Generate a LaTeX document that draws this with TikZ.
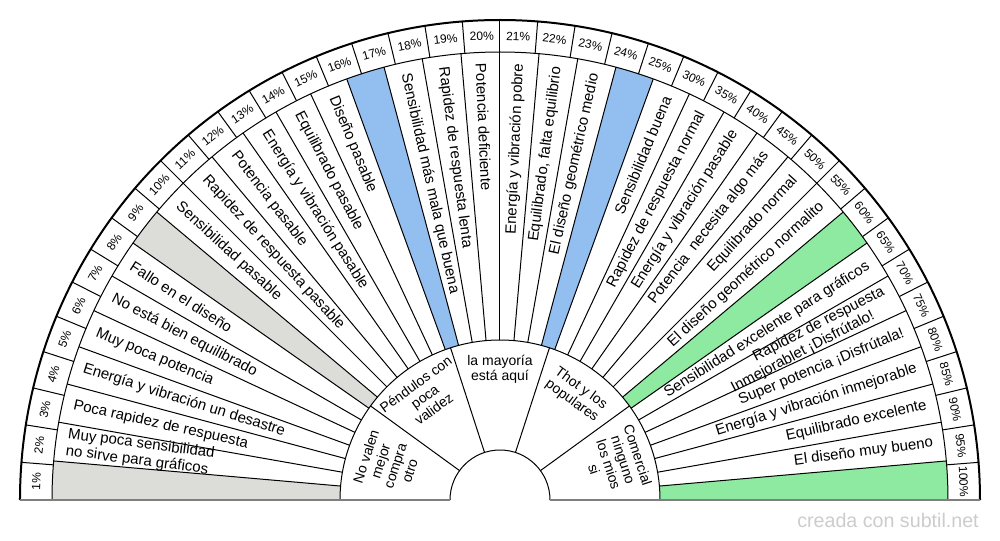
\documentclass[tikz,border=0pt]{standalone}
\usepackage{fontspec}
\setmainfont{Liberation Sans}

\definecolor{fillgray}{HTML}{DCDCD8}
\definecolor{fillblue}{HTML}{93BFF0}
\definecolor{fillgreen}{HTML}{8EEAA0}
\definecolor{basegray}{HTML}{7F7F7F}
\definecolor{markgray}{HTML}{CCCCCC}

\tikzset{lbl/.style={font=\fontsize{11.25}{12.75}\selectfont,inner sep=0pt},
	lbl left/.style={lbl,anchor=west,align=left},
	lbl right/.style={lbl,anchor=east,align=right}
}
\tikzstyle{pct}=[font=\fontsize{9}{10}\selectfont,inner sep=0pt]
\tikzstyle{core}=[font=\fontsize{10.5}{11.5}\selectfont,align=center,inner sep=0pt]

\begin{document}
\begin{tikzpicture}[x=0.75pt,y=0.75pt]
	\useasboundingbox (-500,-40) rectangle (500,500);
	\begin{scope}[line width=0.75pt]
		% coloured sectors
		\foreach \k/\col in {1/fillgray,8/fillgray,15/fillblue,22/fillblue,29/fillgreen,36/fillgreen}{
			\pgfmathsetmacro{\a}{185-5*\k}
			\pgfmathsetmacro{\b}{180-5*\k}
			\fill[\col] (\a:160) arc[start angle=\a,end angle=\b,radius=160]
				-- (\b:448) arc[start angle=\b,end angle=\a,radius=448] -- cycle;
		}
		
		\foreach \j in {1,...,35}{
			\draw ({180-5*\j}:160) -- ({180-5*\j}:448);
		}
		\foreach \j in {1,...,39}{
			\draw ({180-4.5*\j}:448) -- ({180-4.5*\j}:480);
		}
		\foreach \a in {144,108,72,36}{
			\draw (\a:50) -- (\a:160);
		}
		
		\draw (180:50) arc[start angle=180,end angle=0,radius=50];
		\draw (180:160) arc[start angle=180,end angle=0,radius=160];
		\draw (180:448) arc[start angle=180,end angle=0,radius=448];
		\draw[line width=1.5pt] (180:480) arc[start angle=180,end angle=0,radius=480];
		\draw[basegray,line width=1.5pt] (-480,0) -- (-50,0) (50,0) -- (480,0);
	\end{scope}
	
	% percentages
	\foreach \lab [count=\j] in {1,2,3,4,5,6,7,8,9,10,11,12,13,14,15,16,17,18,19,20,21,22,23,24,25,30,35,40,45,50,55,60,65,70,75,80,85,90,95,100}{
		\pgfmathsetmacro{\m}{182.25-4.5*\j}
		\pgfmathsetmacro{\r}{\m-90}
		\node[pct,rotate=\r] (p\j) at (\m:464) {\lab\%};
	}
	
	% sector texts, left half
	\foreach \k/\txt in {2/{Muy poca sensibilidad\\no sirve para gráficos},3/{Poca rapidez de respuesta},
		4/{Energía y vibración un desastre},5/{Muy poca potencia},6/{No está bien equilibrado},
		7/{Fallo en el diseño},9/{Sensibilidad pasable},10/{Rapidez de respuesta pasable},
		11/{Potencia pasable},12/{Energía y vibración pasable},13/{Equilibrado pasable},
		14/{Diseño pasable},16/{Sensibilidad más mala que buena},17/{Rapidez de respuesta lenta},
		18/{Potencia deficiente}}{
		\pgfmathsetmacro{\m}{182.5-5*\k}
		\pgfmathsetmacro{\r}{\m+180}
		\node[lbl left,rotate=\r] (s\k) at (\m:437) {\txt};
	}
	
	% sector texts, right half
	\foreach \k/\txt in {19/{Energía y vibración pobre},20/{Equilibrado, falta equilibrio},
		21/{El diseño geométrico medio},23/{Sensibilidad buena},24/{Rapidez de respuesta normal},
		25/{Energía y vibración pasable},26/{Potencia~ necesita algo más},27/{Equilibrado normal},
		28/{El diseño geométrico normalito},30/{Sensibilidad excelente para gráficos},
		31/{Rapidez de respuesta\\Inmejorablet ¡Disfrútalo!\hspace*{15pt}},
		32/{Super potencia ¡Disfrútala!},33/{Energía y vibración inmejorable},
		34/{Equilibrado excelente},35/{El diseño muy bueno}}{
		\pgfmathsetmacro{\m}{182.5-5*\k}
		\node[lbl right,rotate=\m] (s\k) at (\m:437) {\txt};
	}
	
	% inner ring
	\node[core,rotate=72]  (c1) at (162:118) {No valen\\mejor\\compra\\otro};
	\node[core,rotate=36]  (c2) at (126:128) {Péndulos con\\poca\\validez};
	\node[core]            (c3) at (90:131)  {la mayoría\\está aquí};
	\node[core,rotate=-36] (c4) at (54:130)  {Thot y los\\populares};
	\node[core,rotate=-72] (c5) at (18:122)  {Comercial\\ninguno\\los mios\\si};
	
	\node[anchor=base east,inner sep=0pt,text=markgray,font=\fontsize{14.75}{16}\selectfont] (wm) at (479,-27) {creada con subtil.net};
\end{tikzpicture}
\end{document}
